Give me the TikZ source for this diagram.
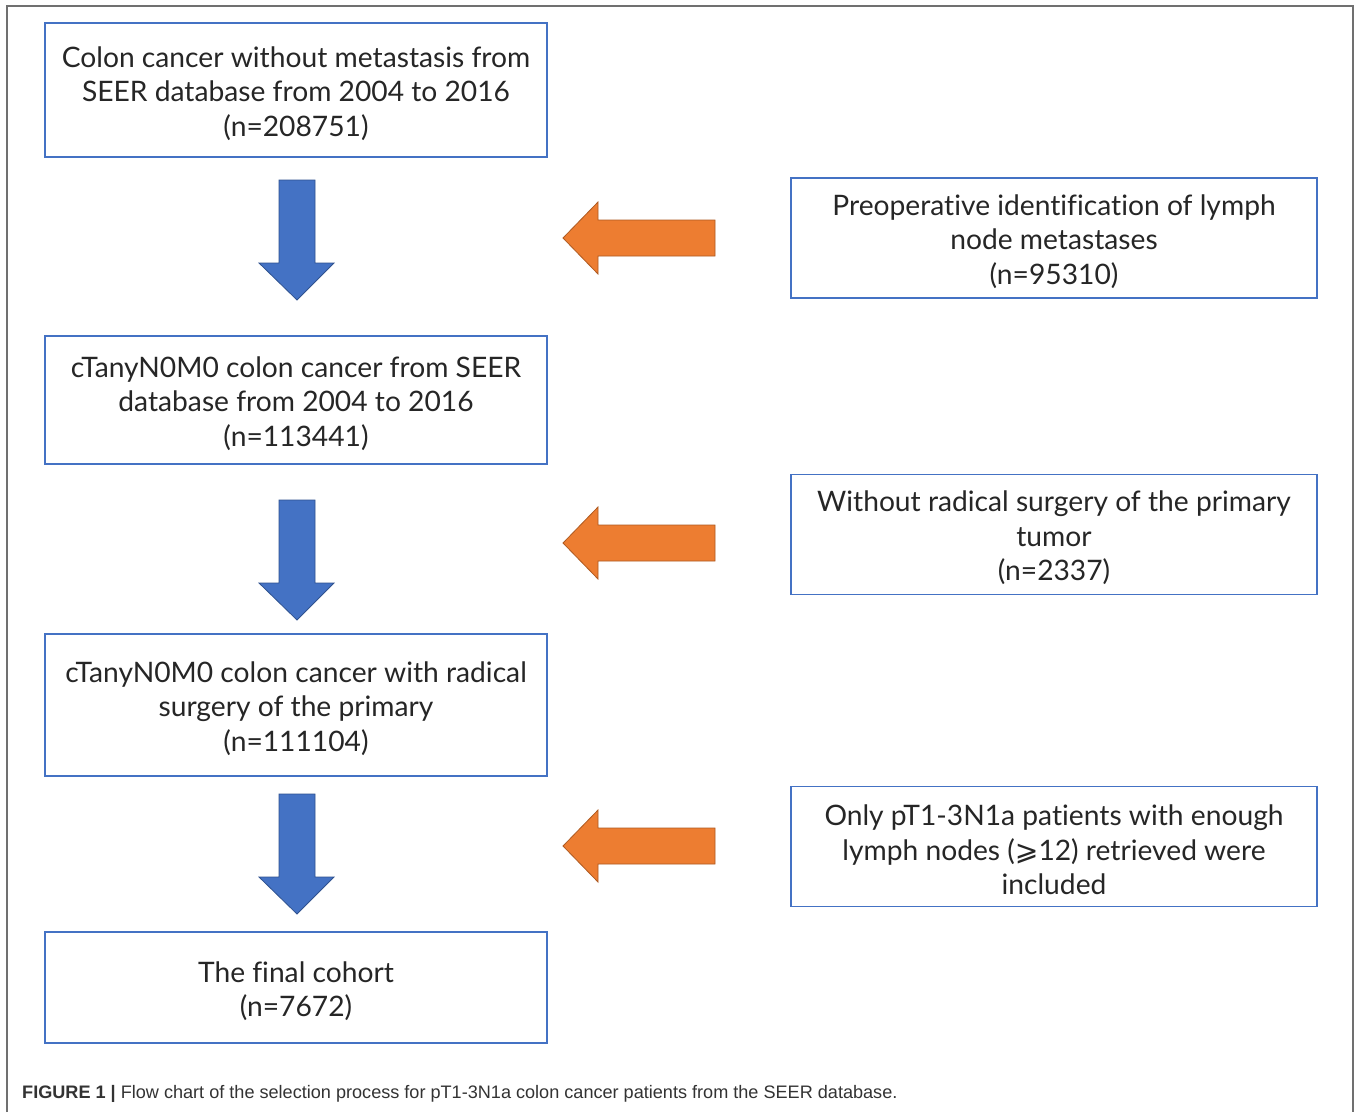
\documentclass[tikz,border=0pt]{standalone}
\usepackage{fontspec}
\setmainfont{Lato}[Ligatures={NoCommon}]
\newfontfamily\capfont{Liberation Sans}
\newfontfamily\symfont{DejaVu Sans}
\definecolor{boxblue}{HTML}{4472C4}
\definecolor{arrblue}{HTML}{4472C4}
\definecolor{arrblueedge}{HTML}{2F528F}
\definecolor{arrorange}{HTML}{ED7D31}
\definecolor{arrorangeedge}{HTML}{AE5A21}
\definecolor{framegray}{HTML}{707070}
\newcommand\boxtext[2]{\raisebox{-3.5pt}[\height][\depth]{\parbox{#1}{\centering #2}}}
\begin{document}
\begin{tikzpicture}[x=1pt,y=-1pt,
  flowbox/.style={draw=boxblue, line width=1.6pt, align=center, inner sep=0pt,
    font=\fontsize{28.2}{34.5}\selectfont, text=black!85},
  leftbox/.style={flowbox, minimum width=502pt},
  rightbox/.style={flowbox, minimum width=526pt, minimum height=120pt},
  downarrow/.style={fill=arrblue, draw=arrblueedge, line width=0.8pt},
  leftarrow/.style={fill=arrorange, draw=arrorangeedge, line width=0.8pt}]
\useasboundingbox (0,0) rectangle (1360,1112);
\fill[white] (0,0) rectangle (1360,1112);
\draw[framegray, line width=1.2pt] (7,1112) -- (7,6) -- (1353,6) -- (1353,1112);

\node[leftbox, minimum height=134pt] (b1) at (296,90)
  {\boxtext{490pt}{Colon cancer without metastasis from\\SEER database from 2004 to 2016\\(n=208751)}};
\node[rightbox] (r1) at (1054,238)
  {\boxtext{515pt}{Preoperative identification of lymph\\node metastases\\(n=95310)}};
\node[leftbox, minimum height=128pt] (b2) at (296,400)
  {\boxtext{490pt}{cTanyN0M0 colon cancer from SEER\\database from 2004 to 2016\\(n=113441)}};
\node[rightbox] (r2) at (1054,534.5)
  {\boxtext{515pt}{Without radical surgery of the primary\\tumor\\(n=2337)}};
\node[leftbox, minimum height=142pt] (b3) at (296,705)
  {\boxtext{490pt}{cTanyN0M0 colon cancer with radical\\surgery of the primary\\(n=111104)}};
\node[rightbox] (r3) at (1054,846.5)
  {\boxtext{515pt}{Only pT1-3N1a patients with enough\\lymph nodes ({\symfont ⩾}12) retrieved were\\included}};
\node[leftbox, minimum height=111pt] (b4) at (296,987.5)
  {\boxtext{490pt}{The final cohort\\(n=7672)}};

% blue down arrows
\foreach \t in {180,500,794}{
  \draw[downarrow] (279,\t) -- (315,\t) -- (315,\t+83) -- (334,\t+83) -- (297,\t+120)
    -- (259,\t+83) -- (279,\t+83) -- cycle;
}
% orange left arrows
\foreach \c in {238,543,846}{
  \draw[leftarrow] (715,\c-18) -- (715,\c+18) -- (598,\c+18) -- (598,\c+36) -- (563,\c)
    -- (598,\c-36) -- (598,\c-18) -- cycle;
}

\node[anchor=base west, inner sep=0pt, font=\capfont\fontsize{18.1}{20}\selectfont, text=black!80] (cap) at (22,1098)
  {\textbf{FIGURE 1 |} Flow chart of the selection process for pT1-3N1a colon cancer patients from the SEER database.};
\end{tikzpicture}
\end{document}
